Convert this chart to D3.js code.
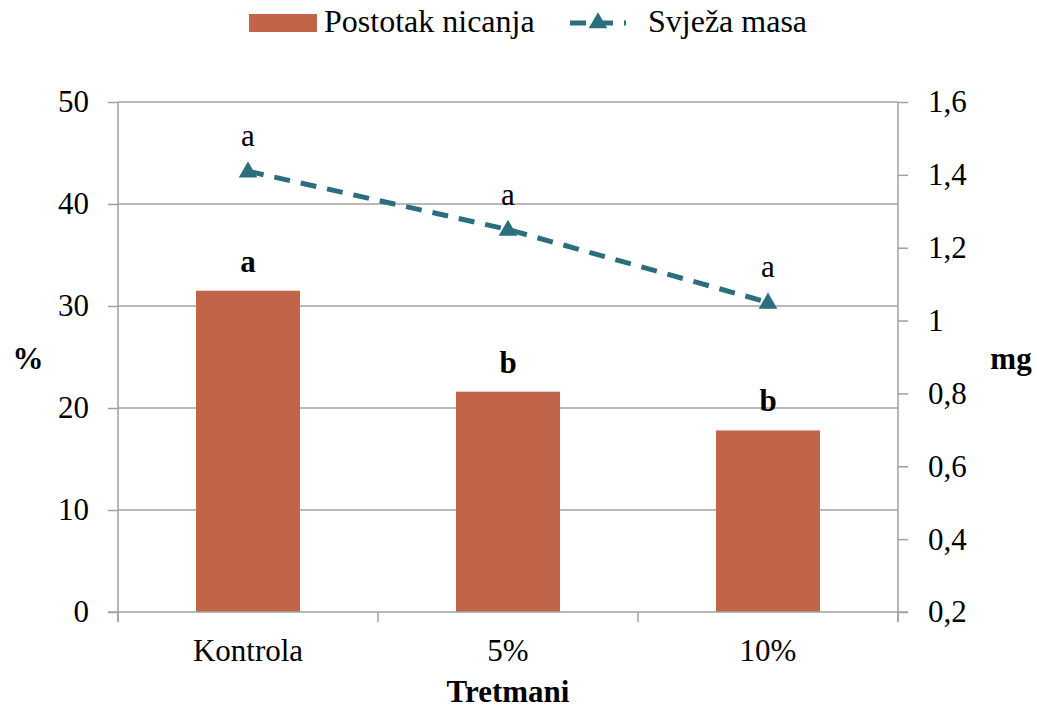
<!DOCTYPE html>
<html><head><meta charset="utf-8">
<script src="https://cdn.jsdelivr.net/npm/d3@7"></script>
<style>body{margin:0;background:#fff}svg{display:block}</style>
</head><body><svg id="c" width="1037" height="711" font-family="'Liberation Serif', Tinos, 'Times New Roman', Times, 'DejaVu Serif', serif"></svg>
<script>
const categories = ["Kontrola", "5%", "10%"];
const germination = [31.5, 21.6, 17.8];
const freshMass = [1.41, 1.25, 1.05];
const barLetters = ["a", "b", "b"];
const lineLetters = ["a", "a", "a"];
const leftTicks = [0, 10, 20, 30, 40, 50];
const rightTicks = [0.2, 0.4, 0.6, 0.8, 1.0, 1.2, 1.4, 1.6];
const seriesNames = ["Postotak nicanja", "Svježa masa"];

const FF = "'Liberation Serif', Tinos, 'Times New Roman', Times, 'DejaVu Serif', serif";
const barColor = "#C0654A", lineColor = "#2B6E7E", gridColor = "#A0A0A0";
const svg = d3.select("#c");
const L = 118, R = 898, T = 102, B = 612;
const fs = 31;

const x = d3.scaleBand().domain(categories).range([L, R]).paddingInner(0.6).paddingOuter(0.3);
const xc = d3.scaleBand().domain(categories).range([L, R]);
const yL = d3.scaleLinear().domain([0, 50]).range([B, T]);
const yR = d3.scaleLinear().domain([0.2, 1.6]).range([B, T]);

svg.append("g").selectAll("line").data(leftTicks.filter(d => d > 0)).join("line")
  .attr("x1", L).attr("x2", R).attr("y1", d => yL(d)).attr("y2", d => yL(d))
  .attr("stroke", gridColor).attr("stroke-width", 1.5);

svg.append("g").selectAll("rect").data(germination).join("rect")
  .attr("x", (d, i) => x(categories[i])).attr("width", x.bandwidth())
  .attr("y", d => yL(d)).attr("height", d => yL(0) - yL(d)).attr("fill", barColor);

const gl = svg.append("g").attr("transform", `translate(${L},0)`)
  .call(d3.axisLeft(yL).tickValues(leftTicks).tickSize(10).tickPadding(19).tickFormat(d3.format("d")));
const gr = svg.append("g").attr("transform", `translate(${R},0)`)
  .call(d3.axisRight(yR).tickValues(rightTicks).tickSize(10).tickPadding(20)
    .tickFormat(d => (Math.abs(d - 1) < 1e-9 ? "1" : d3.format(".1f")(d).replace(".", ","))));
const gb = svg.append("g").attr("transform", `translate(0,${B})`)
  .call(d3.axisBottom(xc).tickSize(0).tickPadding(27));
gb.selectAll(".tick line").remove();
gb.append("g").selectAll("line").data([L, ...categories.map(c => xc(c) + xc.bandwidth())]).join("line")
  .attr("x1", d => d).attr("x2", d => d).attr("y1", 0).attr("y2", 10).attr("stroke", gridColor).attr("stroke-width", 1.5);

[gl, gr, gb].forEach(g => {
  g.attr("font-family", FF).attr("font-size", fs);
  g.selectAll(".domain").attr("stroke", gridColor).attr("stroke-width", 1.5);
  g.selectAll(".tick line").attr("stroke", gridColor).attr("stroke-width", 1.5);
  g.selectAll("text").attr("fill", "#000");
});
gl.select(".domain").attr("d", `M0,${B + 10}V${T}`);
gr.select(".domain").attr("d", `M0,${B + 10}V${T}`);
gr.selectAll("text").attr("text-anchor", "start");
gb.select(".domain").attr("d", `M${L - 10},0H${R + 10}`);

const lx = (d, i) => xc(categories[i]) + xc.bandwidth() / 2;
svg.append("path").datum(freshMass)
  .attr("d", d3.line().x(lx).y(d => yR(d)))
  .attr("fill", "none").attr("stroke", lineColor).attr("stroke-width", 5)
  .attr("stroke-dasharray", "16,11");
svg.append("g").selectAll("path").data(freshMass).join("path")
  .attr("d", d3.symbol(d3.symbolTriangle, 150))
  .attr("transform", (d, i) => `translate(${lx(d, i)},${yR(d) + 1})`).attr("fill", lineColor);

svg.append("g").selectAll("text").data(barLetters).join("text")
  .attr("x", (d, i) => lx(d, i)).attr("y", (d, i) => yL(germination[i]) - 19)
  .attr("text-anchor", "middle").attr("font-size", fs).attr("font-weight", "bold").text(d => d);
svg.append("g").selectAll("text").data(lineLetters).join("text")
  .attr("x", (d, i) => lx(d, i)).attr("y", (d, i) => yR(freshMass[i]) - 25)
  .attr("text-anchor", "middle").attr("font-size", fs).text(d => d);

svg.append("text").attr("x", 28).attr("y", 369).attr("text-anchor", "middle").attr("font-size", fs).attr("font-weight", "bold").text("%");
svg.append("text").attr("x", 1011).attr("y", 369).attr("text-anchor", "middle").attr("font-size", fs).attr("font-weight", "bold").text("mg");
svg.append("text").attr("x", (L + R) / 2).attr("y", 702).attr("text-anchor", "middle").attr("font-size", fs).attr("font-weight", "bold").text("Tretmani");

const lg = svg.append("g");
lg.append("rect").attr("x", 249).attr("y", 14).attr("width", 68).attr("height", 18).attr("fill", barColor);
lg.append("text").attr("x", 324).attr("y", 32).attr("font-size", fs + 1).text(seriesNames[0]);
lg.append("line").attr("x1", 570).attr("x2", 626).attr("y1", 23).attr("y2", 23)
  .attr("stroke", lineColor).attr("stroke-width", 5).attr("stroke-dasharray", "16,11");
lg.append("path").attr("d", d3.symbol(d3.symbolTriangle, 150)).attr("transform", "translate(598,23)").attr("fill", lineColor);
lg.append("text").attr("x", 648).attr("y", 32).attr("font-size", fs + 1).text(seriesNames[1]);
</script></body></html>
